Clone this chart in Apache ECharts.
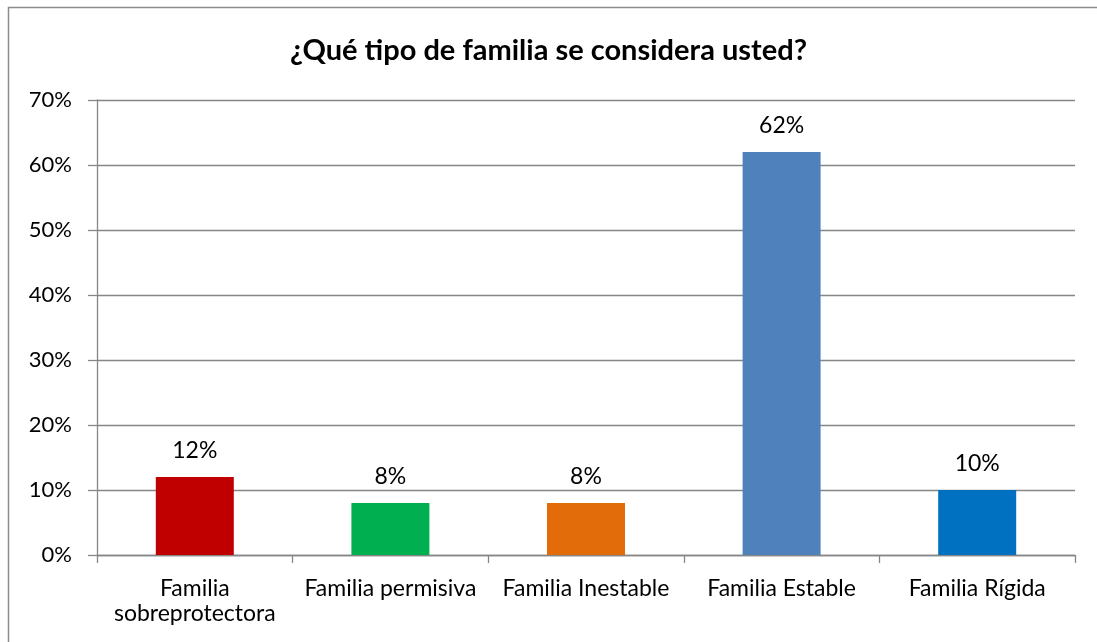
<!DOCTYPE html>
<html>
<head>
<meta charset="utf-8">
<script src="https://cdn.jsdelivr.net/npm/echarts@6/dist/echarts.min.js"></script>
<style>
  html, body { margin: 0; padding: 0; background: #fff; }
  #main { width: 1097px; height: 642px; }
</style>
</head>
<body>
<div id="main"></div>
<script>
// datos de la gráfica
var titulo = '¿Qué tipo de familia se considera usted?';
var categorias = ['Familia\nsobreprotectora', 'Familia permisiva', 'Familia Inestable', 'Familia Estable', 'Familia Rígida'];
var valores = [12, 8, 8, 62, 10];
var colores = ['#C00000', '#00B050', '#E36C0A', '#4F81BD', '#0070C0'];

var fuente = 'Lato';
var gris = '#868686';

var myChart = echarts.init(document.getElementById('main'));

// armar los datos con su color
var datos = [];
for (var i = 0; i < valores.length; i++) {
    datos.push({ value: valores[i], itemStyle: { color: colores[i] } });
}

myChart.setOption({
    backgroundColor: '#fff',
    animation: false,
    title: {
        text: titulo,
        left: 'center',
        top: 31,
        textStyle: { fontFamily: fuente, fontSize: 29, fontWeight: 'bold', color: '#000' }
    },
    graphic: [{
        type: 'rect',
        shape: { x: 8.5, y: 7.5, width: 1100, height: 650 },
        style: { fill: 'none', stroke: '#8c8c8c', lineWidth: 1.5 },
        silent: true
    }],
    grid: { left: 97, right: 22, top: 100, bottom: 87 },
    xAxis: {
        type: 'category',
        data: categorias,
        axisLine: { lineStyle: { color: gris, width: 1.3 } },
        axisTick: { show: true, length: 8, lineStyle: { color: gris, width: 1.3 } },
        axisLabel: { fontFamily: fuente, fontSize: 23, color: '#000', margin: 21, lineHeight: 25, interval: 0 }
    },
    yAxis: {
        type: 'value',
        min: 0,
        max: 70,
        interval: 10,
        axisLine: { show: true, lineStyle: { color: gris, width: 1.3 } },
        axisTick: { show: true, length: 9, lineStyle: { color: gris, width: 1.3 } },
        splitLine: { lineStyle: { color: gris, width: 1.3 } },
        axisLabel: { fontFamily: fuente, fontSize: 22, color: '#000', margin: 25, formatter: '{value}%' }
    },
    series: [{
        type: 'bar',
        data: datos,
        barWidth: 78,
        label: {
            show: true,
            position: 'top',
            distance: 15,
            fontFamily: fuente,
            fontSize: 23,
            color: '#000',
            formatter: '{c}%'
        }
    }]
});
</script>
</body>
</html>
